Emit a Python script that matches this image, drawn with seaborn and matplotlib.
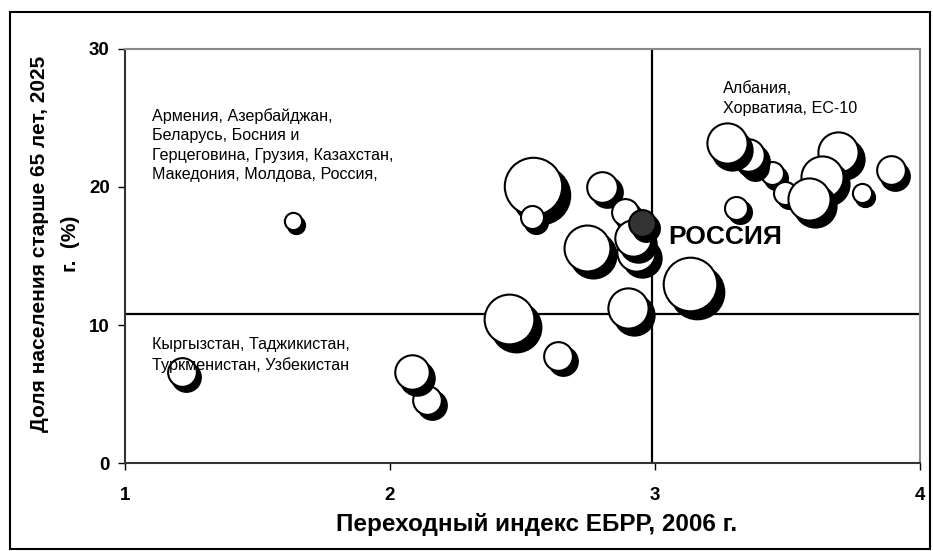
import matplotlib
matplotlib.use("Agg")
import matplotlib.pyplot as plt
import matplotlib.transforms as mtransforms
from matplotlib.patches import Rectangle
import numpy as np
import seaborn as sns


# === Data (drawing order = stacking order) ===
# EBRD transition index 2006 (x), share of population 65+ in 2025, % (y),
# bubble value (relative area)
ebrd_index = [1.215, 1.634, 2.140, 2.083, 2.449, 2.634, 2.540, 2.536, 2.800,
              2.743, 2.898, 2.887, 2.930, 2.917, 3.132, 3.306, 3.440, 3.360,
              3.350, 3.270, 3.490, 3.690, 3.630, 3.580, 3.780, 3.890, 2.951]
share_65 = [6.6, 17.5, 4.6, 6.6, 10.4, 7.75, 20.1, 17.8, 20.0,
            15.6, 11.2, 18.2, 15.3, 16.3, 13.0, 18.5, 21.0, 21.8,
            22.3, 23.2, 19.6, 22.5, 20.7, 19.1, 19.6, 21.2, 17.4]
bubble = [225, 81, 225, 324, 676, 225, 900, 144, 256,
          576, 441, 196, 400, 361, 784, 144, 144, 196,
          289, 441, 144, 441, 484, 484, 100, 225, 196]
is_russia = [False] * 26 + [True]

# reference lines
ebrd_split = 2.99
share_split = 10.8

x_ticks = [1, 2, 3, 4]
y_ticks = [0, 10, 20, 30]

x_label = "Переходный индекс ЕБРР, 2006 г."
y_label = "Доля населения старше 65 лет, 2025\nг.  (%)"
note_top_left = ("Армения, Азербайджан,\nБеларусь, Босния и\n"
                 "Герцеговина, Грузия, Казахстан,\nМакедония, Молдова, Россия,")
note_bottom_left = "Кыргызстан, Таджикистан,\nТуркменистан, Узбекистан"
note_top_right = "Албания,\nХорватияа, ЕС-10"
russia_label = "РОССИЯ"


def main():
    sns.set_style("ticks")
    plt.rcParams["font.family"] = ["Liberation Sans", "DejaVu Sans"]
    plt.rcParams["text.color"] = "black"
    plt.rcParams["axes.labelcolor"] = "black"

    fig = plt.figure(figsize=(9.33, 5.51), dpi=100)
    ax = fig.add_axes([125 / 933, 88 / 551, 795 / 933, 414 / 551])

    # bubbles: black "shadow" then face, one bubble at a time to keep stacking
    for x, y, v, rus in zip(ebrd_index, share_65, bubble, is_russia):
        r = np.sqrt(v)
        shadow = mtransforms.offset_copy(ax.transData, fig=fig,
                                         x=0.2 * r + 1.5, y=-(0.25 * r + 1.5),
                                         units="dots")
        s = 1.9 * v
        sns.scatterplot(x=[x], y=[y], s=s, color="black", edgecolor="black",
                        linewidth=1.5, transform=shadow, ax=ax, zorder=3,
                        legend=False)
        sns.scatterplot(x=[x], y=[y], s=s, color="#333333" if rus else "white",
                        edgecolor="black", linewidth=1.5, ax=ax, zorder=3,
                        legend=False)

    ax.axvline(ebrd_split, color="black", lw=1.6, zorder=2)
    ax.axhline(share_split, color="black", lw=1.6, zorder=2)

    ax.set_xlim(1, 4)
    ax.set_ylim(0, 30)
    ax.set_xticks(x_ticks)
    ax.set_yticks(y_ticks)
    ax.tick_params(direction="out", length=5, width=1, colors="black",
                   labelsize=13.5, pad=12)
    ax.tick_params(axis="y", pad=6)
    for lab in ax.get_xticklabels() + ax.get_yticklabels():
        lab.set_fontweight("bold")

    for side in ["left", "bottom"]:
        ax.spines[side].set_color("#333333")
        ax.spines[side].set_linewidth(1.5)
    for side in ["top", "right"]:
        ax.spines[side].set_color("#888888")
        ax.spines[side].set_linewidth(1.5)

    ax.set_xlabel(x_label, fontsize=17.5, fontweight="bold")
    ax.set_ylabel(y_label, fontsize=15, fontweight="bold", linespacing=1.75)
    ax.xaxis.set_label_coords(0.518, -0.12)
    ax.yaxis.set_label_coords(-0.057, 0.53)

    ax.text(1.10, 25.7, note_top_left, fontsize=11.6, va="top", ha="left",
            linespacing=1.35)
    ax.text(1.10, 9.1, note_bottom_left, fontsize=11.6, va="top", ha="left",
            linespacing=1.4)
    ax.text(3.257, 27.7, note_top_right, fontsize=11.6, va="top", ha="left",
            linespacing=1.4)
    ax.text(3.05, 16.4, russia_label, fontsize=19, fontweight="bold",
            va="center", ha="left", zorder=4)

    fig.patches.append(Rectangle((10 / 933, 2 / 551), 920 / 933, 537 / 551,
                                 transform=fig.transFigure, fill=False,
                                 edgecolor="black", lw=1.5))

    fig.savefig("out.png", dpi=100)
    plt.close(fig)


if __name__ == "__main__":
    main()
